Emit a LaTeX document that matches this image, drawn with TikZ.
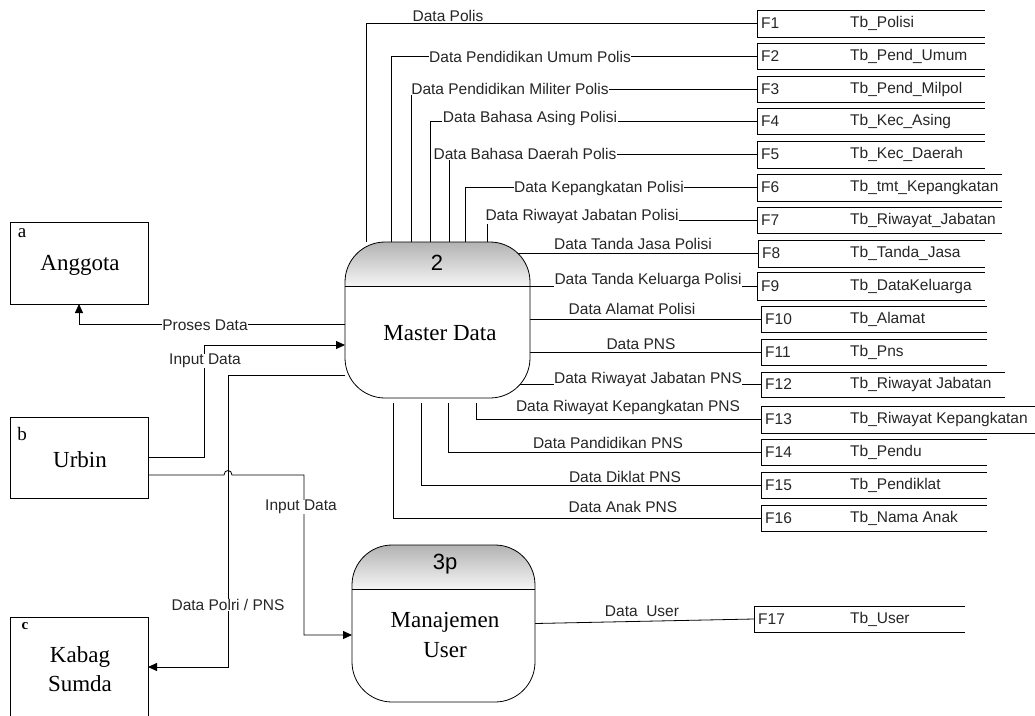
\documentclass[tikz,border=0pt]{standalone}
\usepackage{fontspec}
\setmainfont{Liberation Serif}
\newfontfamily\lsans{Liberation Sans}
\usetikzlibrary{calc,fit,arrows.meta}
\tikzset{
 conn/.style={draw=black, line width=0.8pt},
 arr/.style={conn, -{Triangle[length=9pt,width=8pt]}},
 lbl/.style={font=\lsans\fontsize{15.5}{17}\selectfont, inner sep=0.5pt, text=black!85},
 lblw/.style={lbl, fill=white},
 stxt/.style={font=\lsans\fontsize{15.5}{17}\selectfont, inner sep=0pt, anchor=west, text=black!85},
 ent/.style={draw, line width=0.8pt, minimum width=138pt, inner sep=0pt, outer sep=0pt},
 entname/.style={font=\fontsize{23}{29}\selectfont, align=center, inner sep=0pt},
 entid/.style={font=\fontsize{19}{20}\selectfont, inner sep=0pt},
 proc/.style={draw, line width=0.8pt, fill=white, rounded corners=40pt, inner sep=0pt, outer sep=0pt},
 procid/.style={font=\lsans\fontsize{22}{24}\selectfont, inner sep=0pt},
 procname/.style={font=\fontsize{23}{30}\selectfont, align=center, inner sep=0pt},
}
\newcommand\dstore[7]{%
 \node[fit={(#2,#3) (#5,#4)}, inner sep=0pt, outer sep=0pt] (#1) {};
 \draw[conn] (#1.north east) -- (#1.north west) -- (#1.south west) -- (#1.south east);
 \node[stxt] (#1id) at ($(#1.west)+(4,0)$) {#6};
 \node[stxt] (#1tb) at ($(#1.west)+(850-#2,0)$) {#7};
}
\begin{document}
\begin{tikzpicture}[x=1pt,y=-1pt]
\useasboundingbox (0,0) rectangle (1035,715);
\clip (0,0) rectangle (1035,715);

% data stores
\dstore{F1}{757}{10}{37}{985}{F1}{Tb\_Polisi}
\dstore{F2}{757}{43}{69}{985}{F2}{Tb\_Pend\_Umum}
\dstore{F3}{757}{76}{102}{985}{F3}{Tb\_Pend\_Milpol}
\dstore{F4}{757}{108}{134}{985}{F4}{Tb\_Kec\_Asing}
\dstore{F5}{757}{141}{168}{985}{F5}{Tb\_Kec\_Daerah}
\dstore{F6}{757}{174}{201}{1002}{F6}{Tb\_tmt\_Kepangkatan}
\dstore{F7}{757}{207}{233}{1002}{F7}{Tb\_Riwayat\_Jabatan}
\dstore{F8}{758}{240}{267}{985}{F8}{Tb\_Tanda\_Jasa}
\dstore{F9}{757}{272}{300}{985}{F9}{Tb\_DataKeluarga}
\dstore{F10}{761}{306}{332}{987}{F10}{Tb\_Alamat}
\dstore{F11}{761}{339}{365}{987}{F11}{Tb\_Pns}
\dstore{F12}{761}{372}{397}{1005}{F12}{Tb\_Riwayat Jabatan}
\dstore{F13}{761}{406}{433}{1040}{F13}{Tb\_Riwayat Kepangkatan}
\dstore{F14}{761}{439}{465}{987}{F14}{Tb\_Pendu}
\dstore{F15}{761}{472}{498}{987}{F15}{Tb\_Pendiklat}
\dstore{F16}{761}{505}{531}{987}{F16}{Tb\_Nama Anak}
\dstore{F17}{754}{606}{632}{965}{F17}{Tb\_User}

% external entities
\node[ent, minimum height=82pt] (Ang) at (79,263) {};
\node[ent, minimum height=81pt] (Urb) at (79,457.5) {};
\node[ent, minimum height=150pt] (Kab) at (79,692) {};
\node[entid] (Angid) at (22,233) {a};
\node[entid] (Urbid) at (22,434) {b};
\node[font=\bfseries\fontsize{15}{16}\selectfont, inner sep=0pt] (Kabid) at (25,626) {c};
\node[entname] (Angn) at (80,265) {Anggota};
\node[entname] (Urbn) at (80,460) {Urbin};
\node[entname] (Kabn) at (80,669) {Kabag\\Sumda};

% process placeholders (for anchors)
\path (437.5,320) node[minimum width=185pt, minimum height=156pt, inner sep=0pt, outer sep=0pt] (P2) {};
\path (443.5,623.5) node[minimum width=183pt, minimum height=157pt, inner sep=0pt, outer sep=0pt] (P3) {};

% connectors to stores (top)
\draw[conn] ($(P2.north west)+(21,0)$) |- (F1.west);
\draw[conn] ($(P2.north west)+(46,0)$) |- (F2.west);
\draw[conn] ($(P2.north west)+(66,0)$) |- (F3.west);
\draw[conn] ($(P2.north west)+(85,0)$) |- (F4.west);
\draw[conn] ($(P2.north west)+(104,0)$) |- (F5.west);
\draw[conn] ($(P2.north west)+(120,0)$) |- (F6.west);
\draw[conn] ($(P2.north west)+(142,0)$) |- (F7.west);
% right side
\draw[conn] (F8.west) -- (F8.west -| P2.center);
\draw[conn] (F9.west) -- (F9.west -| P2.center);
\draw[conn] (F10.west) -- (F10.west -| P2.center);
\draw[conn] (F11.west) -- (F11.west -| P2.center);
\draw[conn] (F12.west) -- (F12.west -| P2.center);
% bottom
\draw[conn] ($(P2.south west)+(131,5)$) |- (F13.west);
\draw[conn] ($(P2.south west)+(103,5)$) |- (F14.west);
\draw[conn] ($(P2.south west)+(76,5)$) |- (F15.west);
\draw[conn] ($(P2.south west)+(48,5)$) |- (F16.west);
% user
\draw[conn] (P3.east) -- (F17.west);

% left side flows
\draw[arr] ($(P2.west)+(0,4)$) -| ($(Ang.south west)+(69,0)$);
\draw[arr] (Urb.east) -- ++(56,0) |- ($(P2.west)+(0,25)$);
\draw[arr] ($(P2.west)+(0,55)$) -- ++(-117,0) |- ($(Kab.north east)+(0,50)$);
\draw[arr] ($(Urb.east)+(0,17.5)$) -- (224,475) .. controls (224,469) and (232,469) .. (232,475) -- (304,475) |- ($(P3.west)+(0,11.5)$);

% processes drawn
\foreach \p/\h in {P2/44, P3/44}{
  \fill[white, rounded corners=40pt] (\p.north west) rectangle (\p.south east);
  \begin{scope}
    \clip[rounded corners=40pt] (\p.north west) rectangle (\p.south east);
    \shade[top color=gray!60, bottom color=gray!8] (\p.north west) rectangle ($(\p.north east)+(0,\h)$);
  \end{scope}
  \draw[line width=0.8pt, rounded corners=40pt] (\p.north west) rectangle (\p.south east);
  \draw[line width=0.8pt] ($(\p.north west)+(0,\h)$) -- ($(\p.north east)+(0,\h)$);
}
\node[procid] (P2id) at (437,263) {2};
\node[procname] (P2n) at (440,333) {Master Data};
\node[procid] (P3id) at (445,564) {3p};
\node[procname] (P3n) at (445,635) {Manajemen\\User};

% labels
\node[lblw] (l1) at (448,16) {Data Polis};
\node[lblw] (l2) at (530,57) {Data Pendidikan Umum Polis};
\node[lblw] (l3) at (510,89) {Data Pendidikan Militer Polis};
\node[lblw] (l4) at (530,118) {Data Bahasa Asing Polisi};
\node[lblw] (l5) at (525,154) {Data Bahasa Daerah Polis};
\node[lblw] (l6) at (599,188) {Data Kepangkatan Polisi};
\node[lblw] (l7) at (582,216) {Data Riwayat Jabatan Polisi};
\node[lbl] (l8) at (633,244) {Data Tanda Jasa Polisi};
\node[lblw] (l9) at (648,280) {Data Tanda Keluarga Polisi};
\node[lbl] (l10) at (632,309) {Data Alamat Polisi};
\node[lbl] (l11) at (641,344) {Data PNS};
\node[lblw] (l12) at (648,379) {Data Riwayat Jabatan PNS};
\node[lbl] (l13) at (628,407) {Data Riwayat Kepangkatan PNS};
\node[lbl] (l14) at (608,443) {Data Pandidikan PNS};
\node[lbl] (l15) at (625,477) {Data Diklat PNS};
\node[lbl] (l16) at (623,507) {Data Anak PNS};
\node[lbl] (l17) at (642,611) {Data\ \ User};
\node[lblw] (lp) at (205,325) {Proses Data};
\node[lblw] (li1) at (205,361) {Input Data};
\node[lblw] (li2) at (301,507) {Input Data};
\node[lblw] (ld) at (228,605) {Data Polri / PNS};
\end{tikzpicture}
\end{document}
